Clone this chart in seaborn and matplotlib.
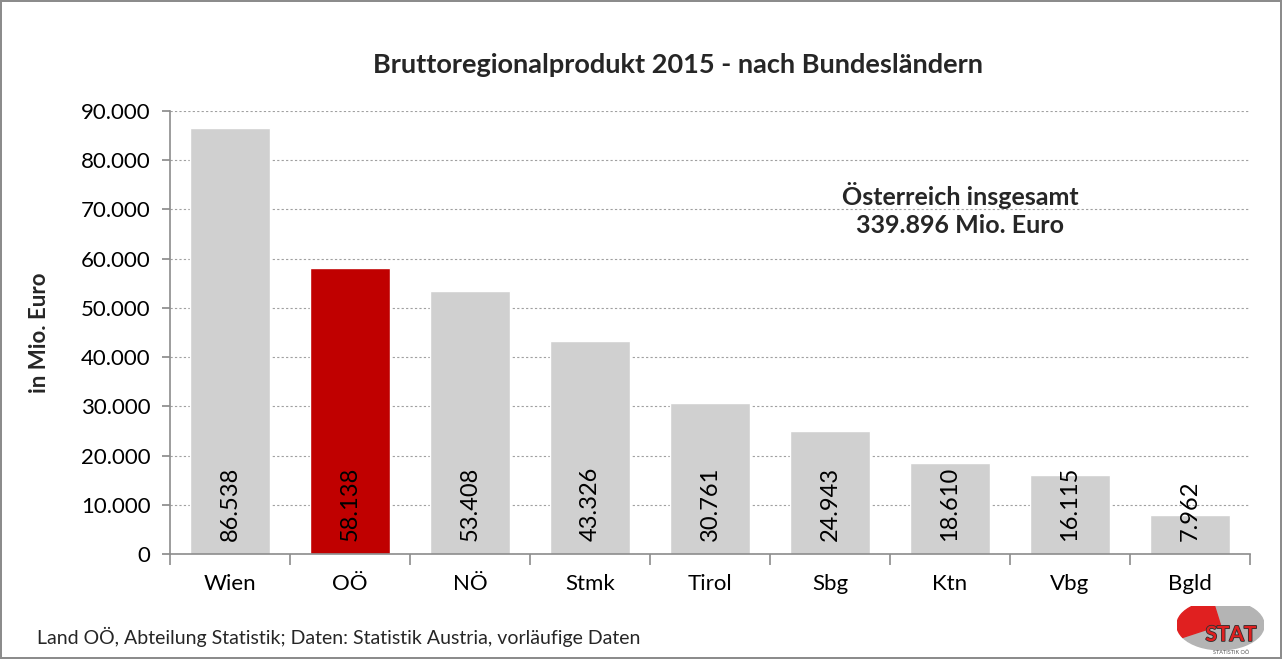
import pandas as pd
import seaborn as sns
import matplotlib.pyplot as plt
import matplotlib.patheffects as pe
from matplotlib.patches import Wedge
from matplotlib.ticker import FuncFormatter, FixedLocator

# data
laender = ["Wien", "OÖ", "NÖ", "Stmk", "Tirol", "Sbg", "Ktn", "Vbg", "Bgld"]
brp = [86538, 58138, 53408, 43326, 30761, 24943, 18610, 16115, 7962]
bar_colors = ["#D0D0D0", "#C00000", "#D0D0D0", "#D0D0D0", "#D0D0D0",
              "#D0D0D0", "#D0D0D0", "#D0D0D0", "#D0D0D0"]
y_ticks = [0, 10000, 20000, 30000, 40000, 50000, 60000, 70000, 80000, 90000]

df = pd.DataFrame({"land": laender, "brp": brp})

def fmt_de(v):
    return f"{int(v):,}".replace(",", ".")

sns.set_theme(style="white")
plt.rcParams["font.family"] = ["Lato", "DejaVu Sans"]

fig = plt.figure(figsize=(12.82, 6.59), dpi=100)
fig.patch.set_edgecolor("#8C8C8C")
fig.patch.set_linewidth(1.5)
ax = fig.add_axes([0.1326, 0.159, 0.8424, 0.673])

sns.barplot(data=df, x="land", y="brp", hue="land", palette=bar_colors,
            legend=False, width=0.667, saturation=1, ax=ax)

ax.set_ylim(0, 90000)
ax.set_xlim(-0.5, len(laender) - 0.5)
ax.yaxis.set_major_locator(FixedLocator(y_ticks))
ax.yaxis.set_major_formatter(FuncFormatter(lambda v, p: fmt_de(v)))
ax.grid(axis="y", color="#A0A0A0", linestyle=(0, (2, 2)), linewidth=0.8)
ax.set_axisbelow(True)

for s in ["top", "right"]:
    ax.spines[s].set_visible(False)
for s in ["left", "bottom"]:
    ax.spines[s].set_color("#8C8C8C")
    ax.spines[s].set_linewidth(1.2)

ax.tick_params(axis="y", labelsize=16, length=6, color="#8C8C8C",
               left=True, pad=8, labelcolor="black")
ax.tick_params(axis="x", labelsize=16, length=0, pad=14, labelcolor="black")
# category separators on x axis
ax.set_xticks([i + 0.5 for i in range(-1, len(laender))], minor=True)
ax.tick_params(axis="x", which="minor", bottom=True, length=8,
               color="#8C8C8C", width=1.2)

ax.set_xlabel("")
ax.set_ylabel("in Mio. Euro", fontsize=16, fontweight="bold", labelpad=22)

# value labels inside bars
for i, v in enumerate(brp):
    ax.text(i, 2600, fmt_de(v), rotation=90, ha="center", va="bottom",
            fontsize=17, color="black")

fig.text(0.529, 0.902, "Bruttoregionalprodukt 2015 - nach Bundesländern",
         ha="center", va="center", fontsize=19.5, fontweight="bold")
fig.text(0.749, 0.682, "Österreich insgesamt\n339.896 Mio. Euro",
         ha="center", va="center", fontsize=18, fontweight="bold",
         multialignment="center", linespacing=1.3)
fig.text(0.029, 0.033, "Land OÖ, Abteilung Statistik; Daten: Statistik Austria, vorläufige Daten",
         ha="left", va="center", fontsize=14)

# small logo
lax = fig.add_axes([0.918, 0.005, 0.068, 0.075])
lax.set_xlim(0, 1)
lax.set_ylim(0, 1)
lax.axis("off")
lax.add_patch(Wedge((0.5, 0.62), 0.5, 210, 100, color="#B4B4B4"))
lax.add_patch(Wedge((0.5, 0.62), 0.5, 100, 210, color="#E02020"))
lax.text(0.62, 0.42, "STAT", ha="center", va="center", fontsize=15,
         fontweight="bold", color="#E02020",
         path_effects=[pe.withStroke(linewidth=1.2, foreground="#303030")])
lax.text(0.62, 0.06, "STATISTIK OÖ", ha="center", va="center", fontsize=4,
         color="#555555")

fig.savefig("out.png", dpi=100, edgecolor=fig.get_edgecolor())
